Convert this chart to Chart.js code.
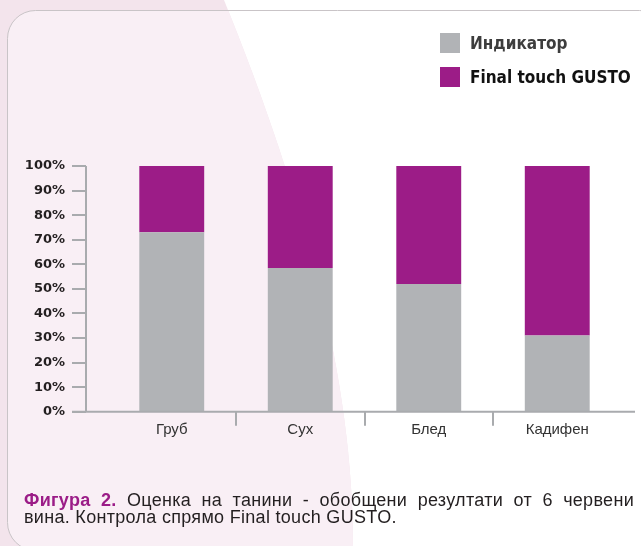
<!DOCTYPE html>
<html>
<head>
<meta charset="utf-8">
<script src="https://cdn.jsdelivr.net/npm/chart.js@4/dist/chart.umd.min.js"></script>
<style>
  html, body { margin: 0; padding: 0; background: #fff; }
  #wrap { position: relative; width: 641px; height: 546px; overflow: hidden; }
  #chart { position: absolute; left: 0; top: 0; }
  #legend { position: absolute; left: 440px; top: 33px; font-family: "DejaVu Sans", sans-serif;
    font-stretch: condensed; font-weight: bold; font-size: 17px; }
  #legend .item { display: flex; align-items: center; height: 20px; margin-bottom: 13.7px; }
  #legend .box { width: 20px; height: 20px; margin-right: 10px; }
  #caption { position: absolute; left: 24px; top: 492px; width: 610px; font-family: "Liberation Sans", Arial, sans-serif;
    font-size: 18px; line-height: 16.6px; letter-spacing: 0.3px; color: #231f20; }
  #caption .l1 { text-align: justify; text-align-last: justify; }
  #caption b { color: #9b1c87; }
</style>
</head>
<body>
<div id="wrap">
  <canvas id="chart" width="641" height="546"></canvas>
  <div id="legend"></div>
  <div id="caption">
    <div class="l1"><b>Фигура 2.</b> Оценка на танини - обобщени резултати от 6 червени</div>
    <div>вина. Контрола спрямо Final touch GUSTO.</div>
  </div>
</div>
<script>
const categories = ['Груб', 'Сух', 'Блед', 'Кадифен'];
const seriesNames = ['Индикатор', 'Final touch GUSTO'];
const indicatorValues = [73, 58.5, 52, 31];
const gustoValues = [27, 41.5, 48, 69];
const yTickValues = [0, 10, 20, 30, 40, 50, 60, 70, 80, 90, 100];

const GREY = '#b1b3b6';
const PURPLE = '#9c1c87';
const AXIS = '#a9abae';

// page background: pink swoosh + rounded frame
const backdrop = {
  id: 'backdrop',
  beforeDraw(chart) {
    const c = chart.ctx;
    c.save();
    c.fillStyle = '#fff';
    c.fillRect(0, 0, chart.width, chart.height);
    c.beginPath();
    c.moveTo(0, 0);
    c.lineTo(224, 0);
    c.bezierCurveTo(305, 200, 353, 380, 353, 546);
    c.lineTo(0, 546);
    c.closePath();
    c.fillStyle = '#f3e4ec';
    c.fill();
    c.clip();
    c.beginPath();
    c.roundRect(7.5, 10.5, 660, 540, 28);
    c.fillStyle = '#f9eff5';
    c.fill();
    c.restore();
    c.save();
    c.beginPath();
    c.roundRect(7.5, 10.5, 660, 540, 28);
    c.strokeStyle = '#c9c4c7';
    c.lineWidth = 1;
    c.stroke();
    c.restore();
  }
};

// axis lines drawn off the plot edge like the original
const axes = {
  id: 'axes',
  afterDraw(chart) {
    const c = chart.ctx, x = chart.scales.x, y = chart.scales.y;
    const ax = 86, y0 = y.getPixelForValue(0);
    c.save();
    c.strokeStyle = AXIS;
    c.lineWidth = 2;
    c.beginPath();
    c.moveTo(ax, y.getPixelForValue(100));
    c.lineTo(ax, y0);
    yTickValues.forEach(v => {
      const py = Math.round(y.getPixelForValue(v));
      c.moveTo(ax - 14, py);
      c.lineTo(ax, py);
    });
    c.moveTo(ax - 14, y0);
    c.lineTo(635, y0);
    for (let i = 0; i < categories.length - 1; i++) {
      const px = Math.round((x.getPixelForValue(i) + x.getPixelForValue(i + 1)) / 2);
      c.moveTo(px, y0);
      c.lineTo(px, y0 + 14);
    }
    c.stroke();
    c.restore();
  }
};

const chart = new Chart(document.getElementById('chart'), {
  type: 'bar',
  data: {
    labels: categories,
    datasets: [
      { label: seriesNames[0], data: indicatorValues, backgroundColor: GREY },
      { label: seriesNames[1], data: gustoValues, backgroundColor: PURPLE }
    ]
  },
  options: {
    responsive: false,
    animation: false,
    barPercentage: 0.505,
    categoryPercentage: 1,
    layout: { padding: { top: 166, right: 19.5, left: 0, bottom: 0 } },
    plugins: { legend: { display: false }, tooltip: { enabled: false } },
    scales: {
      x: {
        stacked: true,
        grid: { display: false, drawTicks: false },
        border: { display: false },
        ticks: { color: '#333', padding: 9, font: { family: 'Liberation Sans', size: 15 } },
        afterFit(s) { s.height = 546 - 411.7; }
      },
      y: {
        stacked: true,
        min: 0,
        max: 100,
        grid: { display: false, drawTicks: false },
        border: { display: false },
        ticks: {
          stepSize: 10,
          padding: 42.5,
          color: '#231f20',
          font: { family: 'DejaVu Sans', size: 13, weight: 'bold' },
          callback: v => v + '%'
        },
        afterFit(s) { s.width = 107.5; }
      }
    }
  },
  plugins: [backdrop, axes]
});

// legend built from the datasets
const legend = document.getElementById('legend');
chart.data.datasets.forEach((ds, i) => {
  const item = document.createElement('div');
  item.className = 'item';
  item.innerHTML = '<span class="box" style="background:' + ds.backgroundColor + '"></span>' +
    '<span style="color:' + (i === 0 ? '#3d3d3d' : '#111') + '">' + ds.label + '</span>';
  legend.appendChild(item);
});
</script>
</body>
</html>
